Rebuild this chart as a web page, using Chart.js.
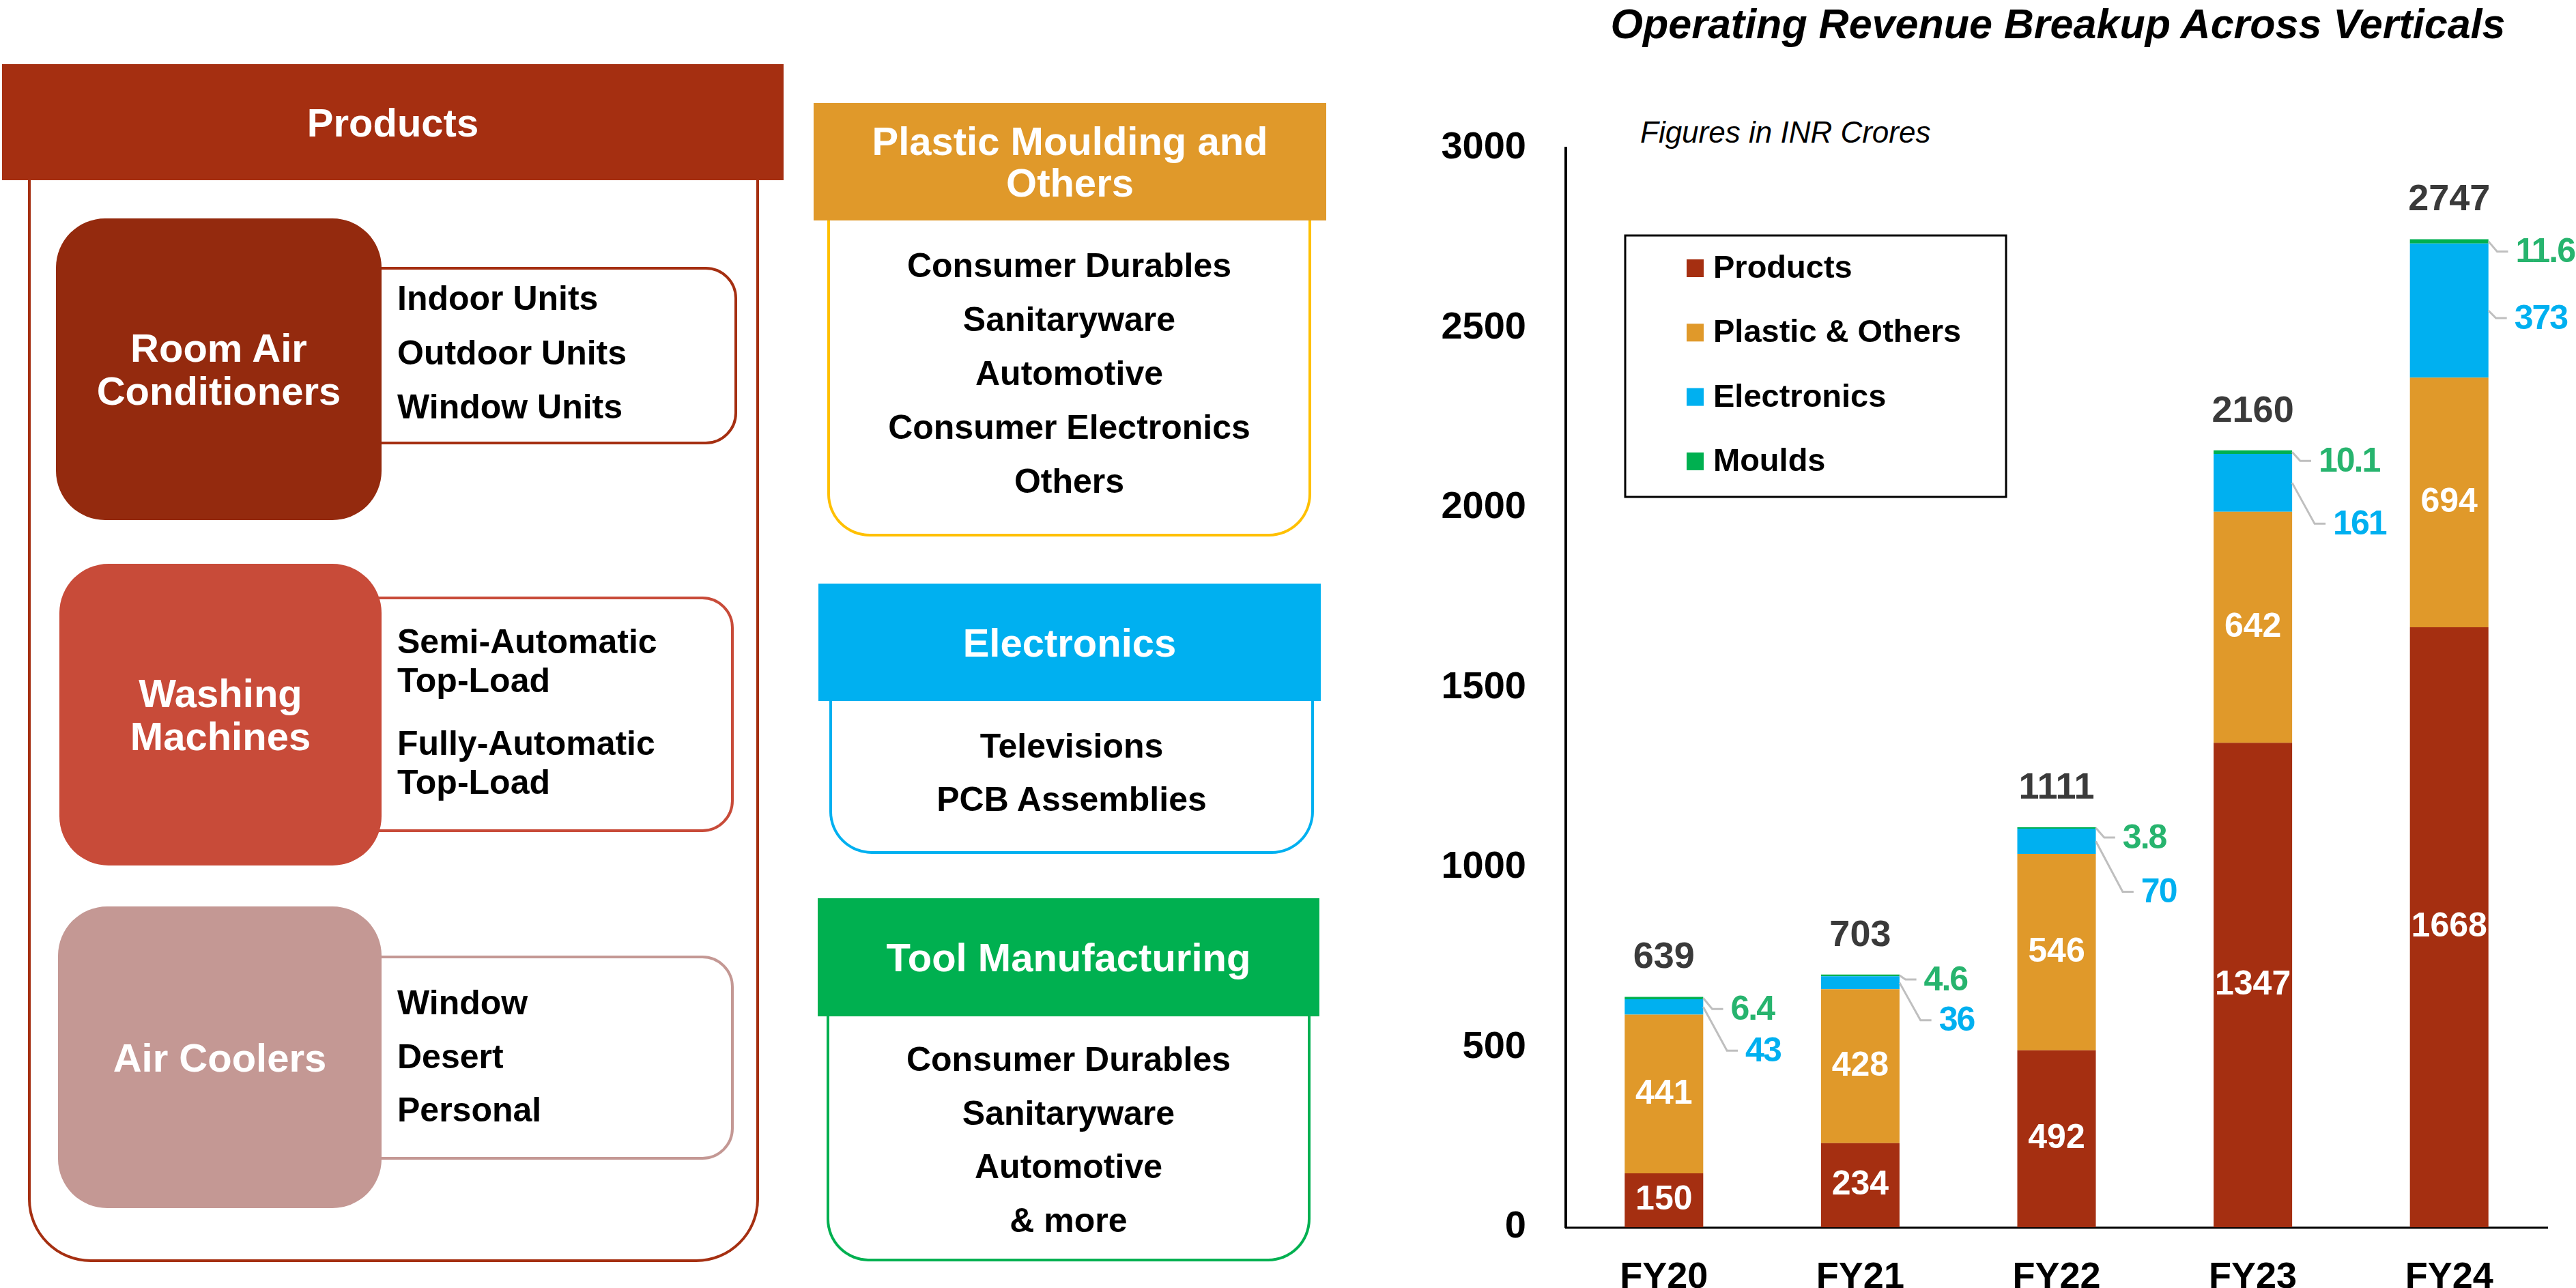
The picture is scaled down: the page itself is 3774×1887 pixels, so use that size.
<!DOCTYPE html>
<html>
<head>
<meta charset="utf-8">
<script src="https://cdn.jsdelivr.net/npm/chart.js@4.4.1/dist/chart.umd.min.js"></script>
<style>
  html, body { margin: 0; padding: 0; background: #fff; }
  body {
    width: 3774px; height: 1887px; position: relative; overflow: hidden;
    font-family: "Liberation Sans", Arial, sans-serif; font-weight: bold;
  }
  .abs { position: absolute; box-sizing: border-box; }
  .head {
    position: absolute; box-sizing: border-box; color: #fff; font-size: 58px; line-height: 61px;
    display: flex; align-items: center; justify-content: center; text-align: center;
  }
  .tile {
    position: absolute; box-sizing: border-box; color: #fff; font-size: 58px; line-height: 63px;
    display: flex; align-items: center; justify-content: center; text-align: center; border-radius: 72px;
  }
  .detail { position: absolute; box-sizing: border-box; border: 4px solid; border-radius: 0 46px 46px 0; }
  .body { position: absolute; box-sizing: border-box; border: 4px solid; border-top: none; border-radius: 0 0 62px 62px; }
  .items { position: absolute; color: #000; font-size: 50px; white-space: nowrap; }
  .center { text-align: center; }
  #chartBox { position: absolute; left: 2000px; top: 0; width: 1774px; height: 1887px; }
  #title {
    position: absolute; left: 2300px; width: 1430px; top: 0; text-align: center;
    font-size: 61px; line-height: 70px; font-style: italic; color: #000;
  }
  #note {
    position: absolute; left: 2403px; top: 168px; font-size: 44px; line-height: 52px;
    font-style: italic; font-weight: normal; color: #000;
  }
</style>
</head>
<body>

<!-- Products column -->
<div class="abs" style="left:41px;top:262px;width:1071px;height:1587px;border:4px solid #A52F11;border-top:none;border-radius:0 0 92px 92px;"></div>
<div class="head" style="left:3px;top:94px;width:1145px;height:170px;background:#A52F11;">Products</div>

<div class="detail" style="left:520px;top:391px;width:560px;height:260px;border-color:#A52F11;"></div>
<div class="tile" style="left:82px;top:320px;width:477px;height:442px;background:#942A0E;">Room Air<br>Conditioners</div>
<div class="items" style="left:582px;top:398px;line-height:79.5px;">Indoor Units<br>Outdoor Units<br>Window Units</div>

<div class="detail" style="left:520px;top:874px;width:555px;height:345px;border-color:#C84B39;"></div>
<div class="tile" style="left:87px;top:826px;width:472px;height:442px;background:#C84B39;">Washing<br>Machines</div>
<div class="items" style="left:582px;top:912px;line-height:57px;">Semi-Automatic<br>Top-Load</div>
<div class="items" style="left:582px;top:1061px;line-height:57px;">Fully-Automatic<br>Top-Load</div>

<div class="detail" style="left:520px;top:1400px;width:555px;height:299px;border-color:#C49894;"></div>
<div class="tile" style="left:85px;top:1328px;width:474px;height:442px;background:#C49894;">Air Coolers</div>
<div class="items" style="left:582px;top:1430px;line-height:78.5px;">Window<br>Desert<br>Personal</div>

<!-- Middle column -->
<div class="body" style="left:1212px;top:318px;width:709px;height:468px;border-color:#FFC000;"></div>
<div class="head" style="left:1192px;top:151px;width:751px;height:172px;background:#E0992A;">Plastic Moulding and<br>Others</div>
<div class="items center" style="left:1212px;width:709px;top:350px;line-height:79px;">Consumer Durables<br>Sanitaryware<br>Automotive<br>Consumer Electronics<br>Others</div>

<div class="body" style="left:1215px;top:1022px;width:710px;height:229px;border-color:#00B0F0;"></div>
<div class="head" style="left:1199px;top:855px;width:736px;height:172px;background:#00B0F0;">Electronics</div>
<div class="items center" style="left:1215px;width:710px;top:1054px;line-height:78px;">Televisions<br>PCB Assemblies</div>

<div class="body" style="left:1211px;top:1484px;width:709px;height:364px;border-color:#00B050;"></div>
<div class="head" style="left:1198px;top:1316px;width:735px;height:173px;background:#00B050;">Tool Manufacturing</div>
<div class="items center" style="left:1211px;width:709px;top:1513px;line-height:78.7px;">Consumer Durables<br>Sanitaryware<br>Automotive<br>&amp; more</div>

<!-- Chart -->
<div id="title">Operating Revenue Breakup Across Verticals</div>
<div id="note">Figures in INR Crores</div>
<div id="chartBox"><canvas id="revenueChart" width="1774" height="1887"></canvas></div>

<script>
// Operating revenue by vertical, INR crores
const years = ["FY20", "FY21", "FY22", "FY23", "FY24"];
const products = [150, 234, 492, 1347, 1668];
const plastic = [441, 428, 546, 642, 694];
const electronics = [43, 36, 70, 161, 373];
const moulds = [6.4, 4.6, 3.8, 10.1, 11.6];
const totals = [639, 703, 1111, 2160, 2747];
const seriesNames = ["Products", "Plastic & Others", "Electronics", "Moulds"];

// colours
const barColors = ["#A52F11", "#E0992A", "#00B0F0", "#00B050"];
const sideLabelColors = { 2: "#00B0F0", 3: "#27B46E" };

// vertical nudge (px) of the callout labels, as placed in the original
const elecLabelDy = [64, 55, 74, 60, 11];
const mouldsLabelDy = [16, 6, 14, 13, 15];

const FONT = '"Liberation Sans", Arial, sans-serif';

// value labels, callouts and totals
const barLabels = {
  id: "barLabels",
  afterDatasetsDraw(chart) {
    const ctx = chart.ctx;
    ctx.save();
    ctx.textBaseline = "middle";

    // white labels inside products / plastic segments
    ctx.font = "bold 50px " + FONT;
    ctx.fillStyle = "#fff";
    ctx.textAlign = "center";
    [0, 1].forEach((di) => {
      chart.getDatasetMeta(di).data.forEach((bar, i) => {
        ctx.fillText(String(chart.data.datasets[di].data[i]), bar.x, (bar.y + bar.base) / 2);
      });
    });

    // callouts for electronics and moulds
    ctx.font = "bold 50px " + FONT;
    ctx.textAlign = "left";
    if ("letterSpacing" in ctx) ctx.letterSpacing = "-2px";
    [2, 3].forEach((di) => {
      const nudges = di === 2 ? elecLabelDy : mouldsLabelDy;
      chart.getDatasetMeta(di).data.forEach((bar, i) => {
        const right = bar.x + bar.width / 2;
        const cy = (bar.y + bar.base) / 2;
        const ly = cy + nudges[i];
        const dx = 6 + Math.abs(nudges[i]) * 0.45;
        ctx.strokeStyle = "#BFBFBF";
        ctx.lineWidth = 3;
        ctx.beginPath();
        ctx.moveTo(right, cy);
        ctx.lineTo(right + dx, ly);
        ctx.lineTo(right + dx + 16, ly);
        ctx.stroke();
        ctx.fillStyle = sideLabelColors[di];
        ctx.fillText(String(chart.data.datasets[di].data[i]), right + dx + 27, ly + 2);
      });
    });
    if ("letterSpacing" in ctx) ctx.letterSpacing = "0px";

    // totals on top
    ctx.font = "bold 54px " + FONT;
    ctx.fillStyle = "#3A3A3A";
    ctx.textAlign = "center";
    chart.getDatasetMeta(3).data.forEach((bar, i) => {
      ctx.fillText(String(totals[i]), bar.x, bar.y - 57);
    });
    ctx.restore();
  }
};

// boxed legend inside the plot
const boxLegend = {
  id: "boxLegend",
  afterDraw(chart) {
    const ctx = chart.ctx;
    const left = chart.chartArea.left + 87;
    const top = chart.chartArea.top + 128;
    ctx.save();
    ctx.strokeStyle = "#000";
    ctx.lineWidth = 3;
    ctx.strokeRect(left, top, 558, 383);
    ctx.font = "bold 47px " + FONT;
    ctx.textBaseline = "middle";
    ctx.textAlign = "left";
    chart.data.datasets.forEach((ds, i) => {
      const cy = top + 48 + i * 94.3;
      ctx.fillStyle = ds.backgroundColor;
      ctx.fillRect(left + 90, cy - 13, 25, 26);
      ctx.fillStyle = "#000";
      ctx.fillText(ds.label, left + 129, cy + 1);
    });
    ctx.restore();
  }
};

new Chart(document.getElementById("revenueChart"), {
  type: "bar",
  data: {
    labels: years,
    datasets: [
      { label: seriesNames[0], data: products, backgroundColor: barColors[0] },
      { label: seriesNames[1], data: plastic, backgroundColor: barColors[1] },
      { label: seriesNames[2], data: electronics, backgroundColor: barColors[2] },
      { label: seriesNames[3], data: moulds, backgroundColor: barColors[3] }
    ]
  },
  options: {
    responsive: false,
    animation: false,
    devicePixelRatio: 1,
    layout: { padding: { top: 217, right: 42, left: 0, bottom: 0 } },
    datasets: { bar: { barPercentage: 0.4, categoryPercentage: 1, borderWidth: 0 } },
    plugins: { legend: { display: false }, tooltip: { enabled: false }, title: { display: false } },
    scales: {
      x: {
        stacked: true,
        grid: { display: false },
        border: { display: true, color: "#000", width: 3 },
        ticks: { color: "#000", font: { family: FONT, size: 54, weight: "bold" }, padding: 34 },
        afterFit: (s) => { s.height = 89; }
      },
      y: {
        stacked: true,
        min: 0,
        max: 3000,
        grid: { display: false },
        border: { display: true, color: "#000", width: 4 },
        ticks: {
          stepSize: 500,
          color: "#000",
          font: { family: FONT, size: 56, weight: "bold" },
          padding: 50,
          callback: (v) => String(v)
        },
        afterFit: (s) => { s.width = 294; }
      }
    }
  },
  plugins: [barLabels, boxLegend]
});
</script>
</body>
</html>
